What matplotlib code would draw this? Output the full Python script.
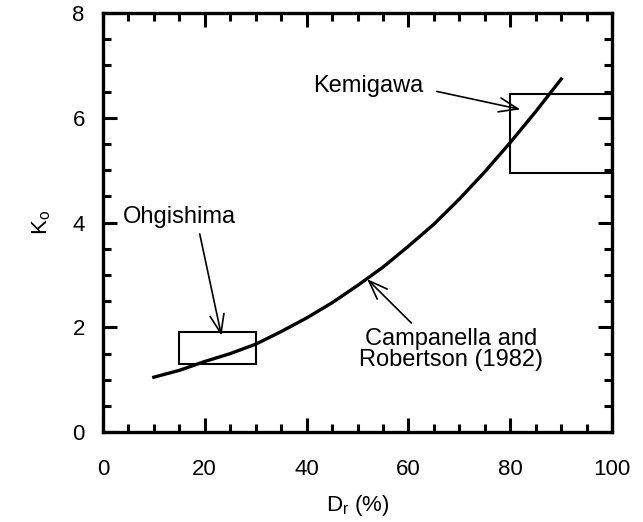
import matplotlib.pyplot as plt
from matplotlib.patches import Rectangle
from matplotlib.ticker import MultipleLocator

plt.rcParams['font.family'] = ['Liberation Sans', 'DejaVu Sans']
plt.rcParams['mathtext.fontset'] = 'custom'
plt.rcParams['mathtext.rm'] = 'Liberation Sans'
plt.rcParams['mathtext.it'] = 'Liberation Sans'

# Campanella and Robertson (1982) curve
dr = [10, 15, 20, 25, 30, 35, 40, 45, 50, 55, 60, 65, 70, 75, 80, 85, 90]
ko = [1.05, 1.18, 1.35, 1.50, 1.68, 1.92, 2.18, 2.47, 2.80, 3.15, 3.55,
      3.97, 4.45, 4.97, 5.53, 6.12, 6.74]

# site ranges: (Dr min, Dr max, Ko min, Ko max)
ohgishima = (15, 30, 1.30, 1.91)
kemigawa = (80, 100, 4.95, 6.45)

fig = plt.figure(figsize=(6.43, 5.22), dpi=100)
ax = fig.add_axes([0.160, 0.172, 0.792, 0.803])

ax.plot(dr, ko, color='black', lw=2.4)

for x0, x1, y0, y1 in [ohgishima, kemigawa]:
    ax.add_patch(Rectangle((x0, y0), x1 - x0, y1 - y0, fill=False,
                           edgecolor='black', lw=1.5))

arrow = dict(arrowstyle='->,head_length=0.8,head_width=0.3', color='black', lw=1.2)
ax.annotate('Ohgishima', xy=(23.4, 1.79), xytext=(3.9, 4.1), fontsize=17,
            ha='left', va='center', arrowprops=dict(arrow, relpos=(0.67, 0.0)))
ax.annotate('Kemigawa', xy=(82.5, 6.15), xytext=(41.2, 6.6), fontsize=17,
            ha='left', va='center', arrowprops=dict(arrow, relpos=(1.1, 0.3)))
ax.annotate('Campanella and\nRobertson (1982)', xy=(51.5, 2.96), xytext=(68.4, 1.58),
            fontsize=17, ha='center', va='center', linespacing=0.95,
            arrowprops=dict(arrow, relpos=(0.31, 1.0)))

ax.set_xlim(0, 100)
ax.set_ylim(0, 8)
ax.xaxis.set_major_locator(MultipleLocator(20))
ax.xaxis.set_minor_locator(MultipleLocator(5))
ax.yaxis.set_major_locator(MultipleLocator(2))
ax.yaxis.set_minor_locator(MultipleLocator(0.5))
ax.tick_params(which='both', direction='in', top=True, right=True, width=2.2)
ax.tick_params(which='major', length=10, labelsize=16)
ax.tick_params(axis='x', which='major', pad=19)
ax.tick_params(axis='y', which='major', pad=13)
ax.tick_params(which='minor', length=5.5)
for s in ax.spines.values():
    s.set_linewidth(2.4)

ax.set_xlabel('D$_r$ (%)', fontsize=16, labelpad=10)
ax.set_ylabel('K$_o$', fontsize=16, labelpad=14)

fig.savefig('out.png', dpi=100)
